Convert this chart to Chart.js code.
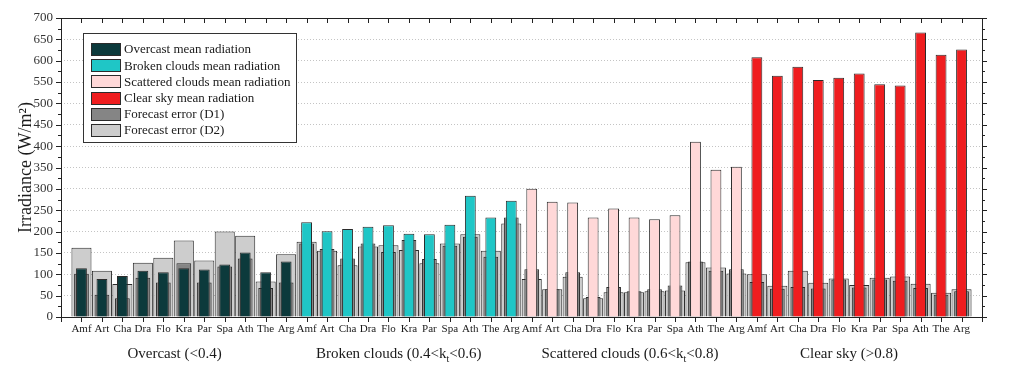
<!DOCTYPE html>
<html><head><meta charset="utf-8">
<script src="https://cdn.jsdelivr.net/npm/chart.js@4.4.1/dist/chart.umd.min.js"></script>
<style>html,body{margin:0;padding:0;background:#fff;} canvas{display:block;}</style>
</head><body>
<canvas id="c" width="1023" height="373"></canvas>
<script>
// ---- data ----
const stations = ['Amf','Art','Cha','Dra','Flo','Kra','Par','Spa','Ath','The','Arg'];
const yTicks = [0,50,100,150,200,250,300,350,400,450,500,550,600,650,700];

const overcastMean  = [114, 89, 96, 108, 105, 114, 111, 123, 151, 105, 130];
const brokenMean    = [222, 201, 206, 211, 215, 195, 194, 216, 284, 233, 272];
const scatteredMean = [300, 270, 268, 233, 254, 233, 229, 238, 410, 345, 352];
const clearMean     = [608, 565, 586, 555, 560, 570, 545, 542, 666, 614, 626];

const overcastD1  = [101, 52, 44, 92, 81, 126, 81, 118, 137, 68, 81];
const brokenD1    = [172, 159, 137, 172, 152, 180, 136, 167, 188, 141, 233];
const scatteredD1 = [112, 65, 105, 47, 70, 60, 65, 74, 130, 108, 112];
const clearD1     = [82, 66, 70, 67, 88, 69, 88, 85, 68, 52, 60];

const overcastD2  = [162, 108, 77, 127, 139, 179, 132, 200, 190, 83, 147];
const brokenD2    = [176, 155, 121, 165, 168, 157, 126, 172, 194, 155, 219];
const scatteredD2 = [89, 65, 94, 44, 58, 58, 60, 62, 128, 116, 102];
const clearD2     = [100, 73, 108, 80, 90, 75, 92, 95, 78, 57, 65];

const groupLabels = [
  ['Overcast (<0.4)'],
  ['Broken clouds (0.4<k', 't', '<0.6)'],
  ['Scattered clouds (0.6<k', 't', '<0.8)'],
  ['Clear sky (>0.8)']
];
const seriesNames = ['Overcast mean radiation','Broken clouds mean radiation','Scattered clouds mean radiation','Clear sky mean radiation','Forecast error (D1)','Forecast error (D2)'];
const seriesColors = ['#0c3a3c','#1fc6c6','#ffd8d8','#ef1d1f','#858585','#cdcdcd'];

// ---- build ----
const N = stations.length;
const labels = [''].concat(stations, stations, stations, stations, ['']);
function placeGroup(g, vals){ const a = new Array(labels.length).fill(null); vals.forEach((v,i)=>{a[1+g*N+i]=v;}); return a; }
const d1 = [null].concat(overcastD1, brokenD1, scatteredD1, clearD1, [null]);
const d2 = [null].concat(overcastD2, brokenD2, scatteredD2, clearD2, [null]);
const means = [overcastMean, brokenMean, scatteredMean, clearMean];

const FONT = '"Liberation Serif", "Times New Roman", serif';
const BORDER = '#2b2b2b';

const datasets = [];
means.forEach((m,g)=>{
  datasets.push({label: seriesNames[g], data: placeGroup(g,m), backgroundColor: seriesColors[g], borderColor: BORDER, borderWidth: 1, barPercentage: 0.53, categoryPercentage: 1, grouped: false, order: 0, borderSkipped: 'bottom'});
});
datasets.push({label: seriesNames[4], data: d1, backgroundColor: seriesColors[4], borderColor: BORDER, borderWidth: 1, barPercentage: 0.72, categoryPercentage: 1, grouped: false, order: 1, borderSkipped: 'bottom'});
datasets.push({label: seriesNames[5], data: d2, backgroundColor: seriesColors[5], borderColor: BORDER, borderWidth: 1, barPercentage: 0.98, categoryPercentage: 1, grouped: false, order: 2, borderSkipped: 'bottom'});

const decor = {
  id: 'decor',
  afterDraw(chart){
    const ctx = chart.ctx, a = chart.chartArea, xs = chart.scales.x, ys = chart.scales.y;
    ctx.save();
    ctx.strokeStyle = '#222'; ctx.lineWidth = 1;
    ctx.strokeRect(Math.round(a.left)+0.5, Math.round(a.top)+0.5, Math.round(a.right-a.left), Math.round(a.bottom-a.top));
    ctx.beginPath();
    for (let v = 0; v <= 700; v += 25){
      const y = Math.round(ys.getPixelForValue(v))+0.5;
      const L = (v % 50 === 0) ? 5 : 3;
      ctx.moveTo(a.left, y); ctx.lineTo(a.left - L, y);
      ctx.moveTo(a.right, y); ctx.lineTo(a.right + L, y);
    }
    for (let i = 0; i < labels.length; i++){
      const x = Math.round(xs.getPixelForValue(i))+0.5;
      ctx.moveTo(x, a.bottom); ctx.lineTo(x, a.bottom + 5);
      ctx.moveTo(x, a.top); ctx.lineTo(x, a.top + 5);
    }
    ctx.stroke();
    const centers = [5.55, 16.5, 27.8, 38.5];
    ctx.fillStyle = '#1a1a1a'; ctx.textBaseline = 'alphabetic';
    groupLabels.forEach((parts,g)=>{
      const big = '15px ' + FONT, small = '10px ' + FONT;
      let w = 0;
      const widths = parts.map((p,k)=>{ ctx.font = (k===1)?small:big; const ww = ctx.measureText(p).width; w += ww; return ww; });
      let x = xs.getPixelForValue(centers[g]) - w/2;
      const base = 358;
      parts.forEach((p,k)=>{
        ctx.font = (k===1)?small:big; ctx.textAlign = 'left';
        ctx.fillText(p, x, k===1 ? base+4 : base);
        x += widths[k];
      });
    });
    const lx = 83, ly = 33, lw = 213, lh = 109;
    ctx.fillStyle = '#fff'; ctx.fillRect(lx, ly, lw, lh);
    ctx.strokeStyle = '#333'; ctx.strokeRect(lx+0.5, ly+0.5, lw, lh);
    ctx.font = '13px ' + FONT; ctx.textBaseline = 'middle'; ctx.textAlign = 'left';
    seriesNames.forEach((name,k)=>{
      const cy = ly + 16 + k*16.2;
      ctx.fillStyle = seriesColors[k];
      ctx.fillRect(91, Math.round(cy-6), 29, 12);
      ctx.strokeStyle = BORDER; ctx.strokeRect(91.5, Math.round(cy-6)+0.5, 29, 12);
      ctx.fillStyle = '#1a1a1a';
      ctx.fillText(name, 124, cy+1);
    });
    ctx.restore();
  }
};

new Chart(document.getElementById('c'), {
  type: 'bar',
  data: { labels, datasets },
  options: {
    responsive: false, animation: false, devicePixelRatio: 1,
    layout: { padding: { left: 0, top: 18, right: 41, bottom: 0 } },
    plugins: { legend: { display: false }, tooltip: { enabled: false } },
    scales: {
      x: {
        type: 'category', offset: false,
        grid: { display: false, drawTicks: false },
        border: { display: false },
        ticks: { autoSkip: false, maxRotation: 0, minRotation: 0, padding: 6, color: '#1a1a1a', font: { family: FONT, size: 11 } },
        afterFit(s){ s.height = 56; }
      },
      y: {
        min: 0, max: 700,
        afterBuildTicks(s){ s.ticks = yTicks.map(v=>({value: v})); },
        grid: { drawTicks: false, lineWidth: 1, color: (c)=> (c.tick && (c.tick.value === 0 || c.tick.value === 700)) ? 'rgba(0,0,0,0)' : '#c4c4c4' },
        border: { display: false, dash: [1, 2] },
        ticks: { padding: 8, color: '#333', font: { family: FONT, size: 13 } },
        title: { display: true, text: 'Irradiance (W/m²)', color: '#1a1a1a', font: { family: FONT, size: 18 }, padding: { top: 15, bottom: 0 } },
        afterFit(s){ s.width = 61; }
      }
    }
  },
  plugins: [decor]
});
</script>
</body></html>
